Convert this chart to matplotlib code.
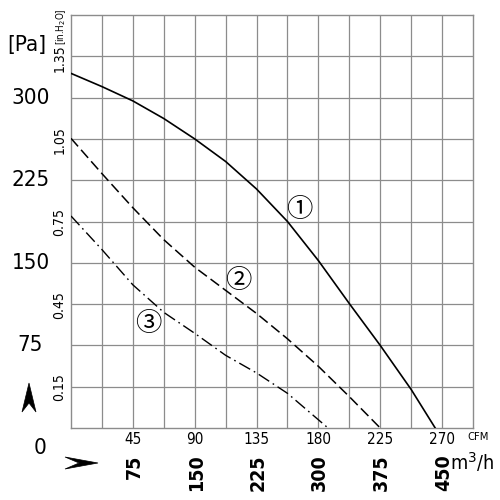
import matplotlib
matplotlib.use("Agg")
import matplotlib.pyplot as plt
from matplotlib.patches import Polygon

# ---- data ----
cfm_1 = [0, 22.5, 45, 67.5, 90, 112.5, 135, 157.5, 180, 202.5, 225, 247.5, 265]
pa_1 = [322, 310, 297, 281, 262.5, 242, 217, 187.5, 152, 113, 75, 35, 0]

cfm_2 = [0, 22.5, 45, 67.5, 90, 112.5, 135, 157.5, 180, 202.5, 225]
pa_2 = [263, 231, 200, 171, 146, 125, 104, 81, 56, 28.5, 0]

cfm_3 = [0, 22.5, 45, 67.5, 90, 112.5, 135, 157.5, 187]
pa_3 = [192.5, 162, 130, 105, 86, 66, 50, 31.5, 0]

pa_ticks = [75, 150, 225, 300]
inh2o_ticks = [0.15, 0.45, 0.75, 1.05, 1.35]
cfm_ticks = [45, 90, 135, 180, 225, 270]
m3h_ticks = [75, 150, 225, 300, 375, 450]

curve_labels = ["①", "②", "③"]
label_pos = [(166, 198), (122, 134), (56, 95)]  # (CFM, Pa)

PA_PER_INH2O = 249.0
X_MAX, Y_MAX = 292.5, 375
FONT = dict(family=["DejaVu Sans"], fontstretch="condensed")

fig = plt.figure(figsize=(5, 5), dpi=100)
fig.patch.set_facecolor("white")
# axes box in pixels: left 71, right 473, top 15, bottom 428
ax = fig.add_axes([71 / 500, 72 / 500, 402 / 500, 413 / 500])
ax.set_xlim(0, X_MAX)
ax.set_ylim(0, Y_MAX)

# grid
for gx in [i * 22.5 for i in range(1, 13)]:
    ax.axvline(gx, color="#8c8c8c", lw=0.9, zorder=1)
for gy in [i * 37.5 for i in range(1, 10)]:
    ax.axhline(gy, color="#8c8c8c", lw=0.9, zorder=1)
for s in ax.spines.values():
    s.set_color("#8c8c8c")
    s.set_linewidth(1.0)
ax.set_xticks([])
ax.set_yticks([])

# curves
ax.plot(cfm_1, pa_1, color="black", lw=1.2, zorder=3)
ax.plot(cfm_2, pa_2, color="black", lw=1.1, dashes=(7, 3), zorder=3)
ax.plot(cfm_3, pa_3, color="black", lw=1.0, dashes=(9, 3, 1.2, 3), zorder=3)

for txt, (x, y) in zip(curve_labels, label_pos):
    ax.text(x, y, txt, fontsize=19, ha="center", va="center",
            family=["Noto Sans CJK JP", "DejaVu Sans"], zorder=4)

# left Pa labels
for v in pa_ticks:
    ax.text(-29.5, v, f"{v}", fontsize=16, ha="center", va="center",
            clip_on=False, **FONT)
ax.text(-22.6, -18.5, "0", fontsize=16, ha="center", va="center",
        clip_on=False, **FONT)
fig.text(27 / 500, 1 - 45 / 500, "[Pa]", fontsize=16, ha="center",
         va="center", **FONT)

# in.H2O labels (rotated)
for v in inh2o_ticks:
    ax.text(-3.5, v * PA_PER_INH2O, f"{v:.2f}", fontsize=10, rotation=90,
            ha="right", va="center", clip_on=False, **FONT)
fig.text(61.5 / 500, 1 - 27 / 500, "[in.H$_2$O]", fontsize=7, rotation=90,
         ha="center", va="center", **FONT)

# CFM labels
for v in cfm_ticks:
    ax.text(v, -4, f"{v}", fontsize=11, ha="center", va="top",
            clip_on=False, **FONT)
fig.text(478 / 500, 1 - 437 / 500, "CFM", fontsize=8, ha="center",
         va="center", **FONT)

# m3/h labels (rotated), printed under the CFM grid columns
for v, c in zip(m3h_ticks, cfm_ticks):
    ax.text(c + 1, -24, f"{v}", fontsize=14, rotation=90, ha="center",
            va="top", fontweight="bold", clip_on=False, **FONT)
fig.text(472 / 500, 1 - 462 / 500, "m$^3$/h", fontsize=14, ha="center",
         va="center", **FONT)

# axis direction arrowheads
up = [(29, 383), (36, 412), (29, 403), (22, 412)]
right = [(98, 463), (65, 457), (79, 463), (65, 469)]
for pts in (up, right):
    fig.patches.append(Polygon([(x / 500, 1 - y / 500) for x, y in pts],
                               closed=True, transform=fig.transFigure,
                               facecolor="black", edgecolor="black", lw=0.5))

fig.savefig("out.png", dpi=100, facecolor="white")
